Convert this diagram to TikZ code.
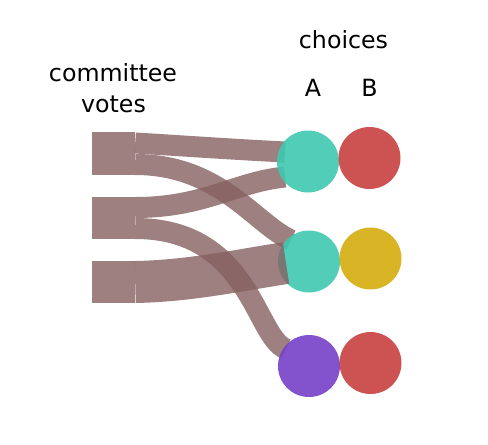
\documentclass[tikz,border=0pt]{standalone}
\usepackage{fontspec}
\setmainfont{DejaVu Sans}
\definecolor{flowc}{RGB}{134,96,96}
\definecolor{votec}{RGB}{158,128,128}
\definecolor{tealc}{RGB}{63,201,176}
\definecolor{redc}{RGB}{200,64,64}
\definecolor{yellowc}{RGB}{213,172,12}
\definecolor{purplec}{RGB}{118,64,201}
\begin{document}
\begin{tikzpicture}[x=1pt,y=-1pt,
  flow/.style={draw=flowc, draw opacity=0.8, line cap=butt},
  vote/.style={fill=votec, draw=none, minimum width=43pt, minimum height=43pt, inner sep=0pt},
  choice/.style={circle, draw=none, minimum size=62pt, inner sep=0pt, fill opacity=0.9},
  lab/.style={font=\fontsize{23.7}{28}\selectfont, anchor=base, inner sep=0pt}]
\useasboundingbox (0,0) rectangle (488,445);
% labels
\node[lab] (tc) at (343.5,48) {choices};
\node[lab] (ta) at (313,96) {A};
\node[lab] (tb) at (369.5,96) {B};
\node[lab] (tv1) at (113,81) {committee};
\node[lab] (tv2) at (113.5,112) {votes};
% vote boxes
\node[vote] (r1) at (113.5,153.5) {};
\node[vote, minimum height=42pt] (r2) at (113.5,218) {};
\node[vote, minimum height=42pt] (r3) at (113.5,282) {};
% choice positions
\coordinate (ca1) at (308,161.5);
\coordinate (ca2) at (309,261.5);
\coordinate (ca3) at (309,366);
% flows under circles
\draw[flow, line width=21pt] ([yshift=10.5pt]r1.east) .. controls (185,146) and (235,149.5) .. ([shift={(-23pt,9.5pt)}]ca1);
\draw[flow, line width=21pt] ([yshift=-11pt]r1.east) .. controls (220,164.5) and (255,224) .. ([shift={(-18pt,21.5pt)}]ca2);
\draw[flow, line width=21pt] ([yshift=10.5pt]r2.east) .. controls (205,207.5) and (235,182) .. ([shift={(-23pt,-15.5pt)}]ca1);
\draw[flow, line width=21pt] ([yshift=-10.5pt]r2.east) .. controls (250,228.5) and (255,337) .. ([shift={(-23pt,17pt)}]ca3);
% circles
\node[choice, fill=tealc] (a1) at (ca1) {};
\node[choice, fill=redc] (b1) at (369.5,158) {};
\node[choice, fill=tealc] (a2) at (ca2) {};
\node[choice, fill=yellowc] (b2) at (370.5,258.5) {};
\node[choice, fill=purplec] (a3) at (ca3) {};
\node[choice, fill=redc] (b3) at (370.5,363) {};
% wide flow over circle
\draw[flow, line width=42pt] (r3.east) .. controls (190,281) and (240,270) .. ([shift={(-23pt,-1.5pt)}]a2.center);
\end{tikzpicture}
\end{document}
